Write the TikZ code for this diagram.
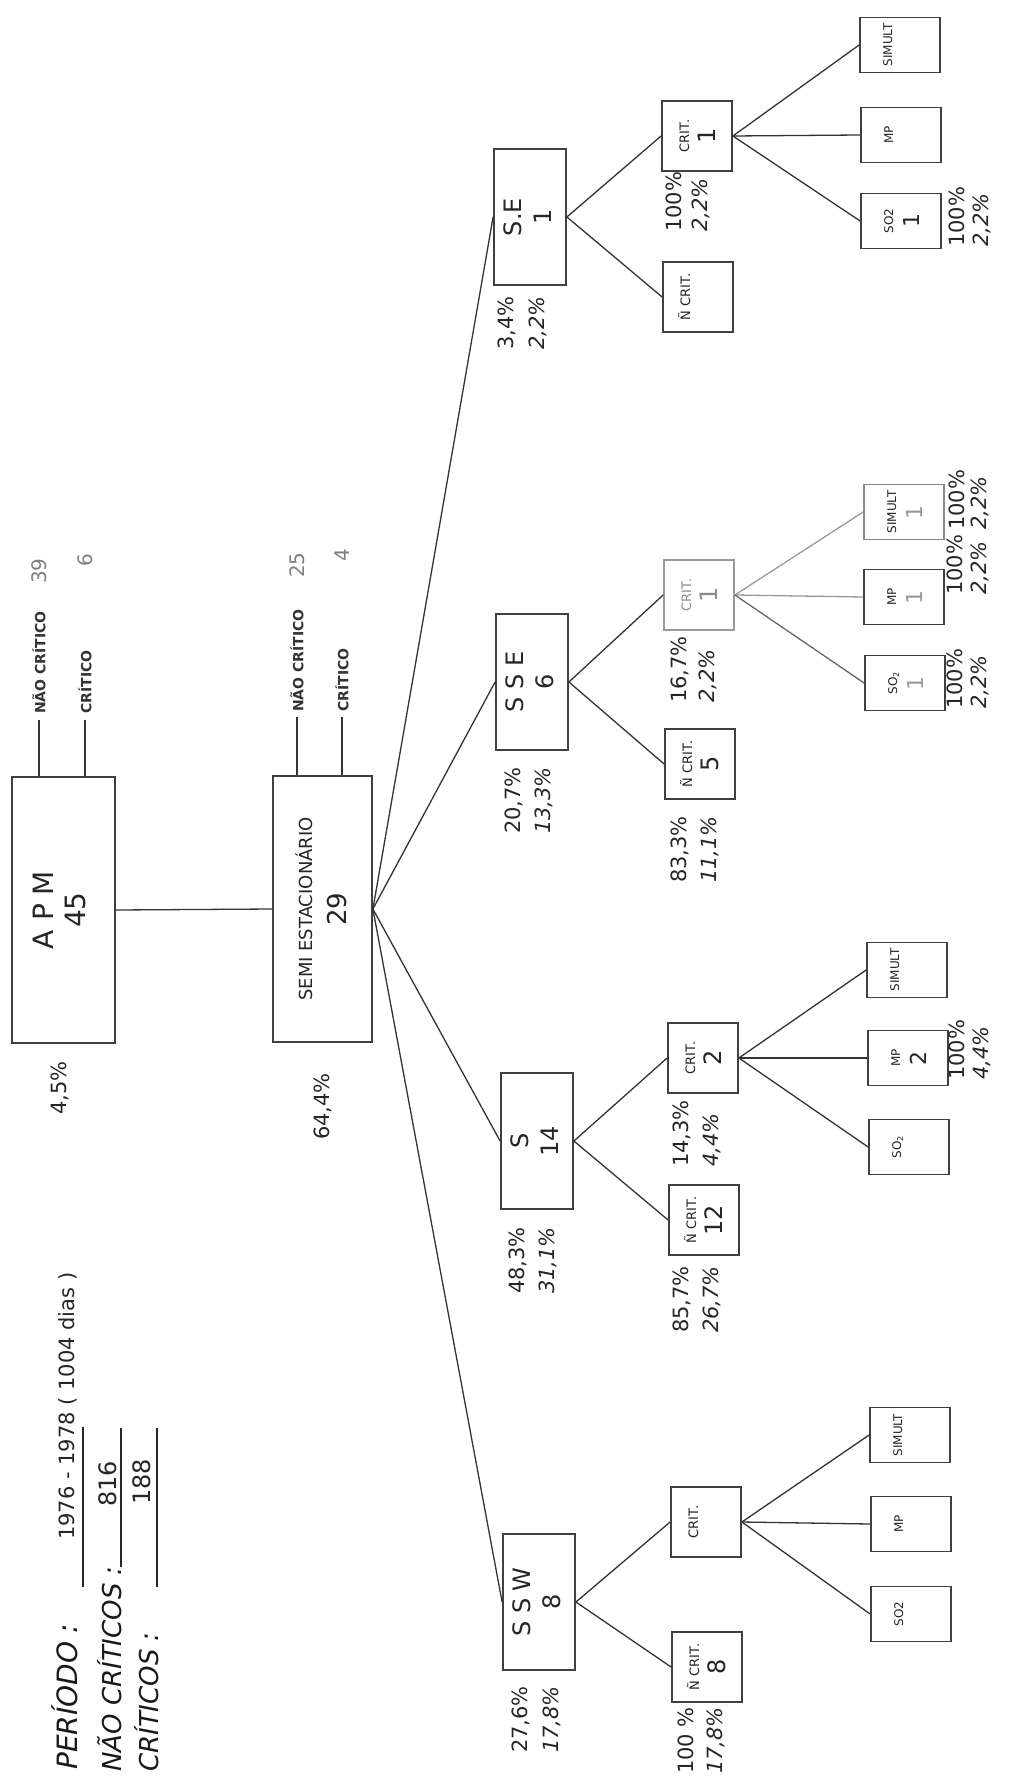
\documentclass[tikz,border=0pt]{standalone}
\usepackage{fontspec}
\setmainfont{DejaVu Sans}
\usepackage{graphicx}
\newcommand{\boxtext}[2]{\rotatebox{90}{#1\begin{tabular}{@{}c@{}}#2\end{tabular}}}
\newcommand{\crittext}[2]{\boxtext{\fontsize{13}{26}\selectfont}{#1\\{\fontsize{24}{26}\selectfont #2}}}
\newcommand{\leaftext}[2]{\boxtext{\fontsize{12}{26}\selectfont}{#1\\{\fontsize{22}{26}\selectfont #2}}}
\newcommand{\lvltext}[2]{\boxtext{\fontsize{24}{30}\selectfont}{#1\\#2}}
\begin{document}
\begin{tikzpicture}[x=1pt,y=-1pt,
  box/.style={draw=black!75, line width=1.8pt, fill=white, inner sep=0pt, text=black!85},
  toplvl/.style={box, minimum height=266pt},
  lvltwo/.style={box, minimum width=72pt, minimum height=136pt},
  critbox/.style={box, minimum width=70pt, minimum height=70pt},
  leafbox/.style={box, minimum width=80pt, minimum height=55pt},
  conn/.style={draw=black!80, line width=1.3pt},
  faint/.style={draw=black!40},
  uline/.style={draw=black!85, line width=2.4pt},
  pct/.style={rotate=90, anchor=west, inner sep=0pt, text=black!85, font=\fontsize{21}{23}\selectfont},
  pcti/.style={pct, font=\fontsize{21}{23}\selectfont\itshape},
  ticklabel/.style={rotate=90, anchor=west, inner sep=0pt, text=black!80, font=\fontsize{14}{16}\selectfont\bfseries},
  graynum/.style={rotate=90, anchor=west, inner sep=0pt, text=black!50, font=\fontsize{20}{22}\selectfont},
  handtxt/.style={rotate=90, anchor=west, inner sep=0pt, text=black!90, font=\fontsize{26}{28}\selectfont\itshape},
  stencil/.style={rotate=90, anchor=west, inner sep=0pt, text=black!85, font=\fontsize{21}{23}\selectfont},
]
\fill[white] (0,0) rectangle (1010,1776);
\useasboundingbox (0,0) rectangle (1010,1776);

% top level
\node[toplvl, minimum width=103pt] (apm) at (63.5,910) {\boxtext{\fontsize{28}{32}\selectfont}{A P M\\45}};
\node[toplvl, minimum width=99pt] (semi) at (322.5,909) {\boxtext{\fontsize{18}{34}\selectfont}{SEMI ESTACIONÁRIO\\{\fontsize{26}{30}\selectfont 29}}};
\draw[conn] (apm.east) -- (semi.west);

% ticks
\coordinate (ta1) at (39,720);
\coordinate (ta2) at (85,720);
\coordinate (ts1) at (297,717);
\coordinate (ts2) at (342,717);
\draw[conn] (apm.north -| ta1) -- (ta1);
\draw[conn] (apm.north -| ta2) -- (ta2);
\draw[conn] (semi.north -| ts1) -- (ts1);
\draw[conn] (semi.north -| ts2) -- (ts2);
\node[ticklabel] (ta1l) at (39,714) {NÃO CRÍTICO};
\node[graynum] (ta1n) at (39,584) {39};
\node[ticklabel] (ta2l) at (85,714) {CRÍTICO};
\node[graynum] (ta2n) at (85,567) {6};
\node[ticklabel] (ts1l) at (297,712) {NÃO CRÍTICO};
\node[graynum] (ts1n) at (297,578) {25};
\node[ticklabel] (ts2l) at (342,712) {CRÍTICO};
\node[graynum] (ts2n) at (342,562) {4};
\node[pct] (papm) at (60,1115) {4,5\%};
\node[pct] (psemi) at (323,1140) {64,4\%};

% level two
\node[lvltwo] (ssw) at (539,1602) {\lvltext{S S W}{8}};
\node[lvltwo] (s) at (537,1141) {\lvltext{S}{14}};
\node[lvltwo] (sse) at (532,682) {\lvltext{S S E}{6}};
\node[lvltwo] (se) at (530,217) {\lvltext{S.E}{1}};
\draw[conn] (semi.east) -- (ssw.west);
\draw[conn] (semi.east) -- (s.west);
\draw[conn] (semi.east) -- (sse.west);
\draw[conn] (semi.east) -- (se.west);

% level three
\node[critbox] (swc) at (706,1522) {\crittext{CRIT.}{\phantom{8}}};
\node[critbox] (swn) at (707,1667) {\crittext{Ñ CRIT.}{8}};
\node[critbox] (sc) at (703,1058) {\crittext{CRIT.}{2}};
\node[critbox] (sn) at (704,1220) {\crittext{Ñ CRIT.}{12}};
\node[critbox, draw=black!40, text=black!45] (ssec) at (699,595) {\crittext{CRIT.}{1}};
\node[critbox] (ssen) at (700,764) {\crittext{Ñ CRIT.}{5}};
\node[critbox] (sec) at (697,136) {\crittext{CRIT.}{1}};
\node[critbox] (sen) at (698,297) {\crittext{Ñ CRIT.}{\phantom{8}}};
\foreach \p/\c/\n in {ssw/swc/swn, s/sc/sn, sse/ssec/ssen, se/sec/sen} {
  \draw[conn] (\p.east) -- (\c.west);
  \draw[conn] (\p.east) -- (\n.west);
}

% leaves
\node[leafbox] (swsim) at (910,1435) {\leaftext{SIMULT}{\phantom{1}}};
\node[leafbox] (swmp) at (911,1524) {\leaftext{MP}{\phantom{1}}};
\node[leafbox] (swso) at (911,1614) {\leaftext{SO2}{\phantom{1}}};
\node[leafbox] (ssim) at (907,970) {\leaftext{SIMULT}{\phantom{1}}};
\node[leafbox] (smp) at (908,1058) {\leaftext{MP}{2}};
\node[leafbox] (sso) at (909,1147) {\leaftext{SO\textsubscript{2}}{\phantom{1}}};
\node[leafbox, draw=black!45] (ssesim) at (904,512) {\leaftext{SIMULT}{\color{black!40}1}};
\node[leafbox] (ssemp) at (904,597) {\leaftext{MP}{\color{black!40}1}};
\node[leafbox] (sseso) at (905,683) {\leaftext{SO\textsubscript{2}}{\color{black!40}1}};
\node[leafbox] (sesim) at (900,45) {\leaftext{SIMULT}{\phantom{1}}};
\node[leafbox] (semp) at (901,135) {\leaftext{MP}{\phantom{1}}};
\node[leafbox] (seso) at (901,221) {\leaftext{SO2}{1}};
\foreach \c/\a/\b/\d in {swc/swsim/swmp/swso, sc/ssim/smp/sso, sec/sesim/semp/seso} {
  \draw[conn] (\c.east) -- (\a.west);
  \draw[conn] (\c.east) -- (\b.west);
  \draw[conn] (\c.east) -- (\d.west);
}
\draw[conn, faint] (ssec.east) -- (ssesim.west);
\draw[conn, faint] (ssec.east) -- (ssemp.west);
\draw[conn, draw=black!60] (ssec.east) -- (sseso.west);

% percentages
\node[pct] (l1a) at (521,1753) {27,6\%};
\node[pcti] (l1b) at (552,1753) {17,8\%};
\node[pct] (l2a) at (686,1774) {100 \%};
\node[pcti] (l2b) at (716,1774) {17,8\%};
\node[pct] (l3a) at (518,1294) {48,3\%};
\node[pcti] (l3b) at (548,1294) {31,1\%};
\node[pct] (l4a) at (682,1333) {85,7\%};
\node[pcti] (l4b) at (712,1333) {26,7\%};
\node[pct] (l5a) at (682,1167) {14,3\%};
\node[pcti] (l5b) at (712,1167) {4,4\%};
\node[pct] (l6a) at (957,1080) {100\%};
\node[pcti] (l6b) at (982,1080) {4,4\%};
\node[pct] (l7a) at (514,834) {20,7\%};
\node[pcti] (l7b) at (544,834) {13,3\%};
\node[pct] (l8a) at (680,883) {83,3\%};
\node[pcti] (l8b) at (710,883) {11,1\%};
\node[pct] (l9a) at (680,703) {16,7\%};
\node[pcti] (l9b) at (708,703) {2,2\%};
\node[pct] (l10a) at (955,709) {100\%};
\node[pcti] (l10b) at (980,709) {2,2\%};
\node[pct] (l11a) at (955,595) {100\%};
\node[pcti] (l11b) at (980,595) {2,2\%};
\node[pct] (l12a) at (957,530) {100\%};
\node[pcti] (l12b) at (980,530) {2,2\%};
\node[pct] (l13a) at (507,350) {3,4\%};
\node[pcti] (l13b) at (538,350) {2,2\%};
\node[pct] (l14a) at (674,232) {100\%};
\node[pcti] (l14b) at (701,232) {2,2\%};
\node[pct] (l15a) at (957,247) {100\%};
\node[pcti] (l15b) at (982,247) {2,2\%};

% title block
\node[handtxt, font=\fontsize{28}{30}\selectfont\itshape] (per) at (65,1770) {PERÍODO :};
\node[stencil] (dt) at (68,1540) {1976 - 1978 ( 1004 dias )};
\node[handtxt] (nc) at (110,1772) {NÃO CRÍTICOS :};
\node[stencil, font=\fontsize{24}{26}\selectfont] (n816) at (108,1507) {816};
\node[handtxt] (cr) at (147,1772) {CRÍTICOS :};
\node[stencil, font=\fontsize{24}{26}\selectfont] (n188) at (142,1505) {188};
\coordinate (u1a) at (83,1427); \coordinate (u1b) at (83,1587);
\coordinate (u2a) at (121,1428); \coordinate (u2b) at (121,1567);
\coordinate (u3a) at (157,1428); \coordinate (u3b) at (157,1587);
\draw[uline] (u1a) -- (u1b);
\draw[uline] (u2a) -- (u2b);
\draw[uline] (u3a) -- (u3b);
\end{tikzpicture}
\end{document}
